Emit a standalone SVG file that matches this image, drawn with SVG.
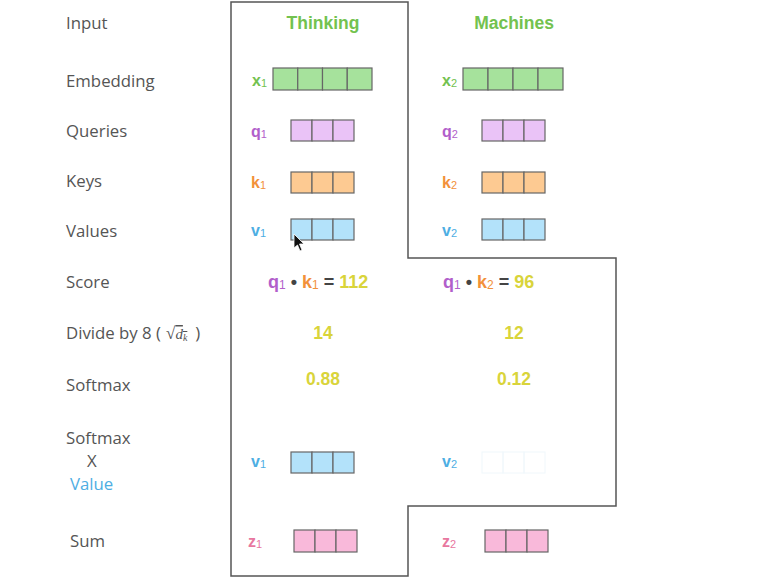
<svg xmlns="http://www.w3.org/2000/svg" width="763" height="583" viewBox="0 0 763 583">
<style>
.lab{font-family:"Open Sans","Liberation Sans",sans-serif;font-size:16.8px;font-weight:500;fill:#555;}
.h{font-family:"Liberation Sans",Arial,sans-serif;font-weight:bold;font-size:17.5px;}
.v{font-family:"Liberation Sans",Arial,sans-serif;font-weight:bold;font-size:16px;}
.n{font-family:"Liberation Sans",Arial,sans-serif;font-weight:bold;font-size:17.5px;}
.s{font-family:"Liberation Sans",Arial,sans-serif;font-weight:bold;font-size:18px;}
.sub{font-size:11px;font-weight:normal;}
.sub2{font-size:12px;font-weight:normal;}
.g{fill:#73c24f;} .p{fill:#b25fcb;} .o{fill:#f2913a;} .b{fill:#4eaee3;} .pk{fill:#e8779f;} .y{fill:#d9d43a;} .dk{fill:#444;}
.cell{stroke:#666;stroke-width:1.2;}
.cg{fill:#a6e29c;} .cp{fill:#eac3f7;} .co{fill:#fdca92;} .cb{fill:#b3e2fa;} .cpk{fill:#f9b9da;}
.faint{fill:none;stroke:#f0f7fb;stroke-width:1;}
</style>
<rect width="763" height="583" fill="#fff"/>
<g id="outline">
<path d="M231,2 H408 V258 H616 V506 H408 V576 H231 Z" fill="none" stroke="#555" stroke-width="1.5"/>
</g>
<g id="labels">
<text class="lab" x="66" y="29">Input</text>
<text class="lab" x="66" y="87">Embedding</text>
<text class="lab" x="66" y="137">Queries</text>
<text class="lab" x="66" y="187">Keys</text>
<text class="lab" x="66" y="237">Values</text>
<text class="lab" x="66" y="288">Score</text>
<text class="lab" x="66" y="339">Divide by 8 (<tspan font-family="'Liberation Serif',serif" font-weight="normal" font-size="17" dx="5">√</tspan><tspan font-family="'Liberation Serif',serif" font-weight="normal" font-style="italic" font-size="15" text-decoration="overline">d<tspan font-size="10" dy="2">k</tspan></tspan><tspan dx="8" dy="-2">)</tspan></text>
<text class="lab" x="66" y="391">Softmax</text>
<text class="lab" x="66" y="444">Softmax</text>
<text class="lab" x="87" y="467">X</text>
<text class="lab" x="70" y="490" style="fill:#4eaee3">Value</text>
<text class="lab" x="70" y="547">Sum</text>
</g>
<g id="word1">
<text class="h g" x="323" y="29" text-anchor="middle">Thinking</text>
</g>
<g id="word2">
<text class="h g" x="514" y="29" text-anchor="middle">Machines</text>
</g>
<g id="x1">
<text class="v g" x="252" y="86">x<tspan class="sub" dy="1">1</tspan></text>
<g class="cell cg"><rect x="273" y="68" width="24.75" height="22"/><rect x="297.75" y="68" width="24.75" height="22"/><rect x="322.5" y="68" width="24.75" height="22"/><rect x="347.25" y="68" width="24.75" height="22"/></g>
</g>
<g id="x2">
<text class="v g" x="442" y="86">x<tspan class="sub" dy="1">2</tspan></text>
<g class="cell cg"><rect x="463" y="68" width="25" height="22"/><rect x="488" y="68" width="25" height="22"/><rect x="513" y="68" width="25" height="22"/><rect x="538" y="68" width="25" height="22"/></g>
</g>
<g id="q1">
<text class="v p" x="251" y="137">q<tspan class="sub" dy="1">1</tspan></text>
<g class="cell cp"><rect x="291" y="120" width="21" height="21"/><rect x="312" y="120" width="21" height="21"/><rect x="333" y="120" width="21" height="21"/></g>
</g>
<g id="q2">
<text class="v p" x="442" y="137">q<tspan class="sub" dy="1">2</tspan></text>
<g class="cell cp"><rect x="482" y="120" width="21" height="21"/><rect x="503" y="120" width="21" height="21"/><rect x="524" y="120" width="21" height="21"/></g>
</g>
<g id="k1">
<text class="v o" x="251" y="188">k<tspan class="sub" dy="1">1</tspan></text>
<g class="cell co"><rect x="291" y="172" width="21" height="21"/><rect x="312" y="172" width="21" height="21"/><rect x="333" y="172" width="21" height="21"/></g>
</g>
<g id="k2">
<text class="v o" x="442" y="188">k<tspan class="sub" dy="1">2</tspan></text>
<g class="cell co"><rect x="482" y="172" width="21" height="21"/><rect x="503" y="172" width="21" height="21"/><rect x="524" y="172" width="21" height="21"/></g>
</g>
<g id="v1">
<text class="v b" x="251" y="236">v<tspan class="sub" dy="1">1</tspan></text>
<g class="cell cb"><rect x="291" y="219" width="21" height="21"/><rect x="312" y="219" width="21" height="21"/><rect x="333" y="219" width="21" height="21"/></g>
</g>
<g id="v2">
<text class="v b" x="442" y="236">v<tspan class="sub" dy="1">2</tspan></text>
<g class="cell cb"><rect x="482" y="219" width="21" height="21"/><rect x="503" y="219" width="21" height="21"/><rect x="524" y="219" width="21" height="21"/></g>
</g>
<g id="score1">
<text class="s" x="268" y="288"><tspan class="p">q<tspan class="sub2" dy="1">1</tspan></tspan><tspan class="dk" dy="-1"> • </tspan><tspan class="o">k<tspan class="sub2" dy="1">1</tspan></tspan><tspan class="dk" dy="-1"> = </tspan><tspan class="y">112</tspan></text>
</g>
<g id="score2">
<text class="s" x="443" y="288"><tspan class="p">q<tspan class="sub2" dy="1">1</tspan></tspan><tspan class="dk" dy="-1"> • </tspan><tspan class="o">k<tspan class="sub2" dy="1">2</tspan></tspan><tspan class="dk" dy="-1"> = </tspan><tspan class="y">96</tspan></text>
</g>
<g id="div1"><text class="n y" x="323" y="339" text-anchor="middle">14</text></g>
<g id="div2"><text class="n y" x="514" y="339" text-anchor="middle">12</text></g>
<g id="soft1"><text class="n y" x="323" y="385" text-anchor="middle">0.88</text></g>
<g id="soft2"><text class="n y" x="514" y="385" text-anchor="middle">0.12</text></g>
<g id="sv1">
<text class="v b" x="251" y="467">v<tspan class="sub" dy="1">1</tspan></text>
<g class="cell cb"><rect x="291" y="452" width="21" height="21"/><rect x="312" y="452" width="21" height="21"/><rect x="333" y="452" width="21" height="21"/></g>
</g>
<g id="sv2">
<text class="v b" x="442" y="467">v<tspan class="sub" dy="1">2</tspan></text>
<g class="faint"><rect x="482" y="452" width="21" height="21"/><rect x="503" y="452" width="21" height="21"/><rect x="524" y="452" width="21" height="21"/></g>
</g>
<g id="z1">
<text class="v pk" x="248" y="547">z<tspan class="sub" dy="1">1</tspan></text>
<g class="cell cpk"><rect x="294" y="530" width="21" height="22"/><rect x="315" y="530" width="21" height="22"/><rect x="336" y="530" width="21" height="22"/></g>
</g>
<g id="z2">
<text class="v pk" x="442" y="547">z<tspan class="sub" dy="1">2</tspan></text>
<g class="cell cpk"><rect x="485" y="530" width="21" height="22"/><rect x="506" y="530" width="21" height="22"/><rect x="527" y="530" width="21" height="22"/></g>
</g>
<g id="cursor">
<path d="M294,234 L294,248 L297.5,245 L300,251 L302,250 L299.5,244 L304,244 Z" fill="#111" stroke="#fff" stroke-width="0.8"/>
</g>
</svg>
